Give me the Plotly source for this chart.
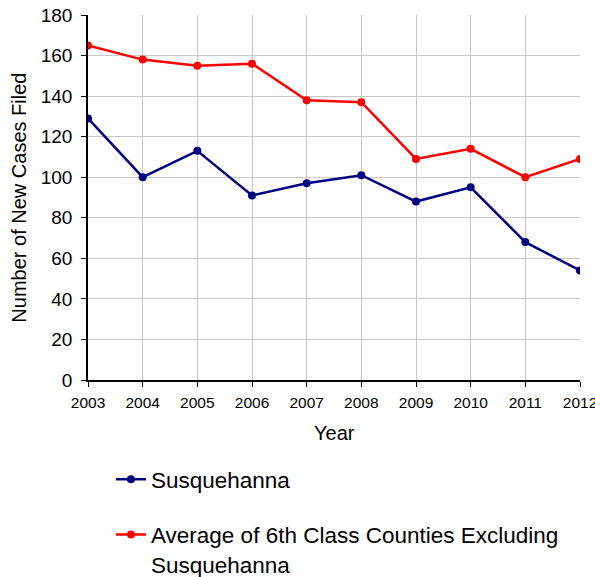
import plotly.graph_objects as go

years = [2003, 2004, 2005, 2006, 2007, 2008, 2009, 2010, 2011, 2012]
susquehanna = [129, 100, 113, 91, 97, 101, 88, 95, 68, 54]
average_6th = [165, 158, 155, 156, 138, 137, 109, 114, 100, 109]

FONT = "Liberation Sans, Arial, sans-serif"

fig = go.Figure()
fig.add_trace(go.Scatter(
    x=years, y=susquehanna, mode="lines+markers", name="Susquehanna",
    line=dict(color="#000080", width=2.5), marker=dict(color="#000080", size=8),
    legendgroup="a"))
fig.add_trace(go.Scatter(
    x=years, y=average_6th, mode="lines+markers",
    name="Average of 6th Class Counties Excluding<br>Susquehanna",
    line=dict(color="#ff0000", width=2.5), marker=dict(color="#ff0000", size=8),
    legendgroup="b"))

fig.update_layout(
    width=595, height=577,
    margin=dict(l=88, r=15, t=15, b=197, autoexpand=False),
    paper_bgcolor="white", plot_bgcolor="white",
    font=dict(family=FONT, color="black"),
    showlegend=True,
    legend=dict(x=0.0467, y=-0.214, xanchor="left", yanchor="top",
                font=dict(size=22.5, family=FONT), traceorder="grouped",
                tracegroupgap=23, valign="top", bgcolor="rgba(0,0,0,0)"),
    xaxis=dict(range=[2003, 2012], tickmode="array", tickvals=years,
               ticktext=[str(y) for y in years],
               tickfont=dict(size=15.5), showgrid=True, gridcolor="#c8c8c8", gridwidth=1,
               showline=True, linecolor="black", linewidth=1.5,
               ticks="outside", ticklen=5, tickcolor="black",
               ticklabelstandoff=3, ticklabeloverflow="allow",
               automargin=False, zeroline=False),
    yaxis=dict(range=[0, 180], dtick=20, tickfont=dict(size=19),
               showgrid=True, gridcolor="#c8c8c8", gridwidth=1,
               showline=True, linecolor="black", linewidth=1.5,
               ticks="outside", ticklen=5, tickcolor="black",
               ticklabelstandoff=5, ticklabeloverflow="allow",
               automargin=False, zeroline=False),
    annotations=[
        dict(text="Year", xref="paper", yref="paper", x=0.5, y=-0.145,
             xanchor="center", yanchor="middle", showarrow=False,
             font=dict(size=20, family=FONT)),
        dict(text="Number of New Cases Filed", xref="paper", yref="paper",
             x=-0.142, y=0.5, xanchor="center", yanchor="middle",
             textangle=-90, showarrow=False, font=dict(size=20, family=FONT)),
    ],
)

fig.write_html("out.html", config={"displayModeBar": False},
               post_script="document.body.style.margin='0';")
